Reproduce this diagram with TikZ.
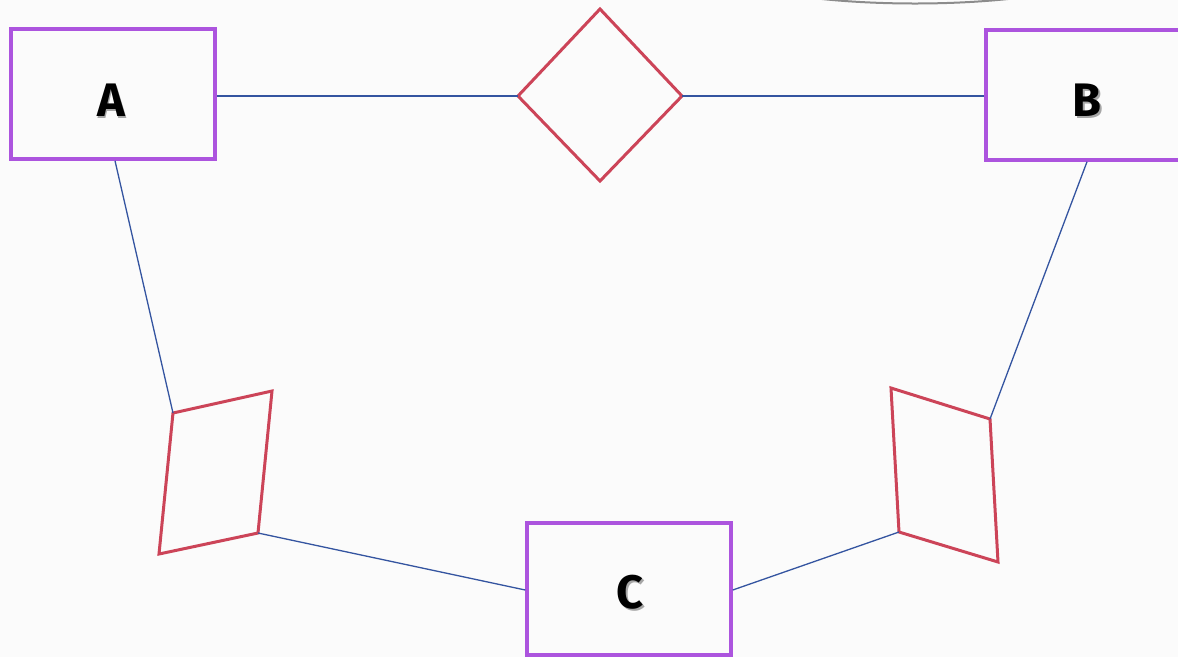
\documentclass[tikz,border=0pt]{standalone}
\usepackage{fontspec}
\setmainfont{Fira Sans}
\usetikzlibrary{shapes.geometric}
\definecolor{boxpurple}{RGB}{172,84,222}
\definecolor{relred}{RGB}{204,68,88}
\definecolor{linkblue}{RGB}{52,84,160}
\definecolor{bgcol}{RGB}{251,251,251}
\newcommand{\shadowlabel}[1]{\tikz[baseline]{\node[inner sep=0,text=black!35] at (1.5pt,-1.5pt) {#1};\node[inner sep=0] at (0,0) {#1};}}
\begin{document}
\begin{tikzpicture}[x=1pt,y=-1pt,
  entity/.style={draw=boxpurple,line width=3.5pt,minimum width=204pt,minimum height=130pt,inner sep=0},
  lab/.style={inner sep=0,font=\fontsize{47}{50}\selectfont\bfseries},
  relshape/.style={draw=relred,line width=3pt,line join=miter},
  link/.style={draw=linkblue,line width=1.3pt}]
\clip (0,0) rectangle (1178,657);
\fill[bgcol] (0,0) rectangle (1178,657);
% top arc
\draw[black!45,line width=2pt] (822,-1) .. controls (880,5) and (950,5) .. (1008,-1);
% entities
\node[entity] (A) at (113,94) {};
\node[entity] (B) at (1088,95) {};
\node[entity,minimum height=132pt] (C) at (629,589) {};
\node[lab] (Alab) at ([xshift=-1pt,yshift=-7pt]A.center) {\shadowlabel{A}};
\node[lab] (Blab) at ([xshift=0pt,yshift=-6pt]B.center) {\shadowlabel{B}};
\node[lab] (Clab) at ([xshift=2pt,yshift=-4pt]C.center) {\shadowlabel{C}};
% relationship diamond
\coordinate (Rt) at (600,9);
\coordinate (Rr) at (682,96);
\coordinate (Rb) at (600,181);
\coordinate (Rl) at (518,96);
\draw[relshape] (Rt) -- (Rr) -- (Rb) -- (Rl) -- cycle;
% left parallelogram
\coordinate (Ltl) at (173,413);
\coordinate (Ltr) at (272,391);
\coordinate (Lbr) at (258,533);
\coordinate (Lbl) at (159,554);
\draw[relshape] (Ltl) -- (Ltr) -- (Lbr) -- (Lbl) -- cycle;
% right parallelogram
\coordinate (Rtl) at (891,388);
\coordinate (Rtr) at (990,419);
\coordinate (Rbr) at (998,562);
\coordinate (Rbl) at (899,532);
\draw[relshape] (Rtl) -- (Rtr) -- (Rbr) -- (Rbl) -- cycle;
% connectors
\draw[link] (A.east |- Rl) -- (Rl);
\draw[link] (Rr) -- (B.west |- Rr);
\draw[link] ([xshift=2pt]A.south) -- (Ltl);
\draw[link] (Lbr) -- ([yshift=-1pt]C.west);
\draw[link] ([yshift=-1pt]C.east) -- (Rbl);
\draw[link] (Rtr) -- ([xshift=-1pt]B.south);
\end{tikzpicture}
\end{document}
